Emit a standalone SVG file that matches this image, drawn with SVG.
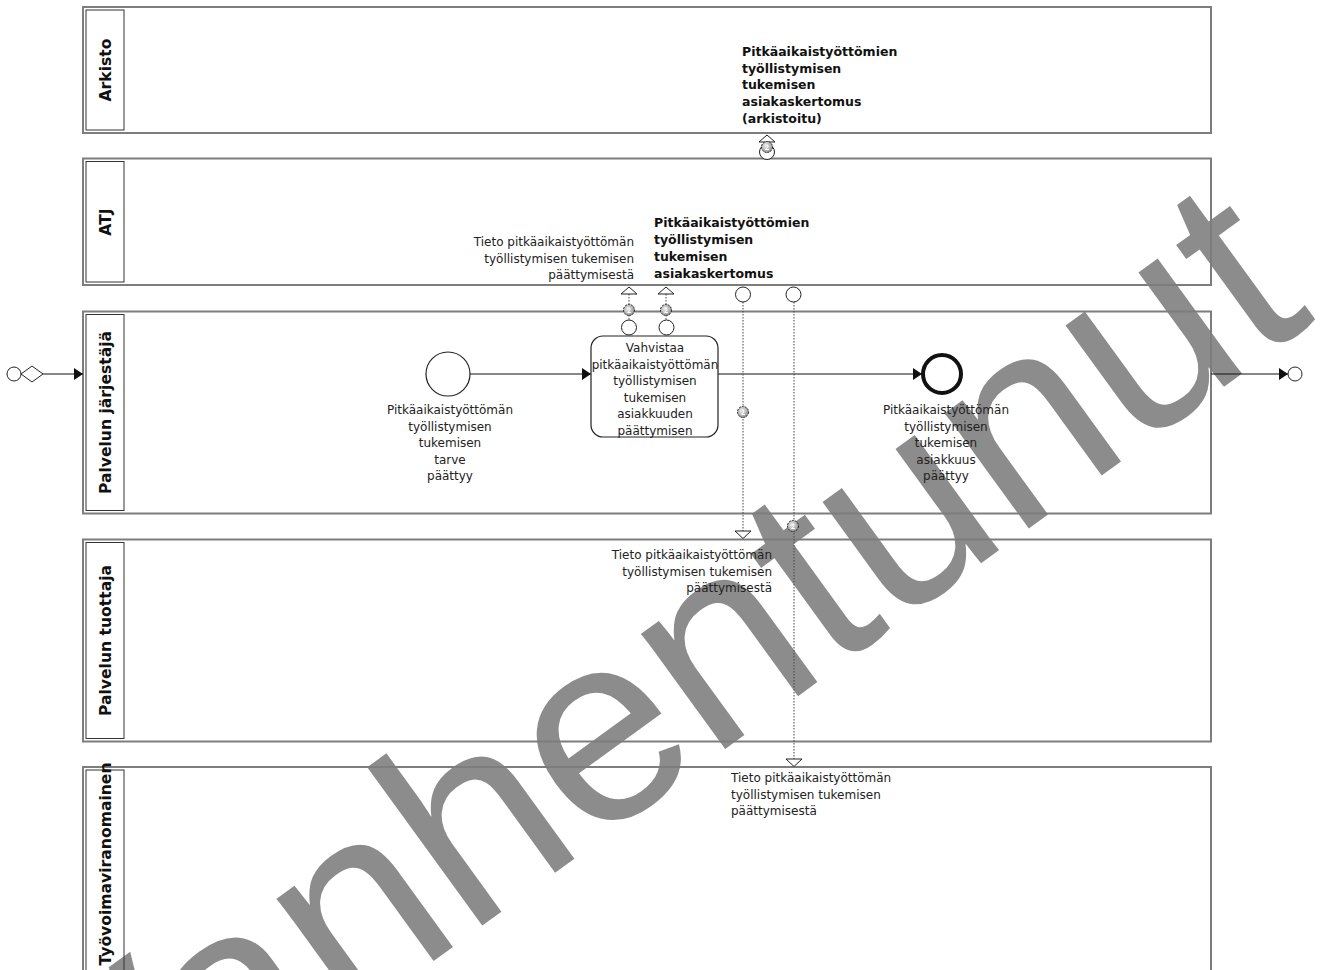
<svg xmlns="http://www.w3.org/2000/svg" width="1325" height="970" viewBox="0 0 1325 970">
<style>
.lane{fill:none;stroke:#7d7d7d;stroke-width:2}
.hdr{fill:none;stroke:#333;stroke-width:1}
.lt{font-family:"DejaVu Sans",Verdana,sans-serif;font-weight:bold;font-size:15.6px;fill:#111;text-anchor:middle}
.t{font-family:"DejaVu Sans",Verdana,sans-serif;font-size:12px;fill:#222}
.b{font-family:"DejaVu Sans",Verdana,sans-serif;font-size:12.5px;font-weight:bold;fill:#111}
.flow{fill:none;stroke:#111;stroke-width:1.2}
.msg{fill:none;stroke:#444;stroke-width:1;stroke-dasharray:1.5 1.5}
.tri{fill:#fff;stroke:#222;stroke-width:1}
.dc{fill:#fff;stroke:#222;stroke-width:1}
.wm{font-family:"Liberation Sans",Arial,sans-serif;font-size:270px;fill:#8c8c8c}
</style>
<defs>
<marker id="ah" markerWidth="9" markerHeight="12" refX="9" refY="6" orient="auto" markerUnits="userSpaceOnUse">
<path d="M0,0 L9,6 L0,12 Z" fill="#111"/>
</marker>
<radialGradient id="mg" cx="0.4" cy="0.4" r="0.7">
<stop offset="0" stop-color="#eeeeee"/>
<stop offset="1" stop-color="#8a8a8a"/>
</radialGradient>
<g id="mi">
<circle r="5.5" fill="url(#mg)" stroke="#222" stroke-width="1" stroke-dasharray="2 1"/>
<path d="M-1.5,-2 Q1.5,-3 1,0 L-1.5,2.5 L2,2.5" fill="none" stroke="#fff" stroke-width="0.9"/>
</g>
</defs>
<rect width="1325" height="970" fill="#fff"/>
<text class="wm" transform="translate(706,763) rotate(-36)" text-anchor="middle">Vanhentunut</text>

<g id="lane-arkisto">
<rect class="lane" x="83" y="7" width="1128" height="126"/>
<rect class="hdr" x="86" y="10" width="38" height="120"/>
<text class="lt" transform="translate(110.5,70) rotate(-90)">Arkisto</text>
</g>
<g id="lane-atj">
<rect class="lane" x="83" y="158.5" width="1128" height="126.5"/>
<rect class="hdr" x="86" y="161.5" width="38" height="120.5"/>
<text class="lt" transform="translate(110.5,222) rotate(-90)">ATJ</text>
</g>
<g id="lane-jarjestaja">
<rect class="lane" x="83" y="311.5" width="1128" height="202"/>
<rect class="hdr" x="86" y="314.5" width="38" height="196"/>
<text class="lt" transform="translate(110.5,412.5) rotate(-90)">Palvelun järjestäjä</text>
</g>
<g id="lane-tuottaja">
<rect class="lane" x="83" y="539.5" width="1128" height="202"/>
<rect class="hdr" x="86" y="542.5" width="38" height="196"/>
<text class="lt" transform="translate(110.5,640.5) rotate(-90)">Palvelun tuottaja</text>
</g>
<g id="lane-tyovoima">
<rect class="lane" x="83" y="767" width="1128" height="205"/>
<rect class="hdr" x="86" y="770" width="38" height="205"/>
<text class="lt" transform="translate(110.5,864) rotate(-90)">Työvoimaviranomainen</text>
</g>

<g id="connectors">
<line class="flow" x1="43" y1="374" x2="83" y2="374" marker-end="url(#ah)"/>
<line class="flow" x1="470" y1="374" x2="591" y2="374" marker-end="url(#ah)"/>
<line class="flow" x1="718" y1="374" x2="922" y2="374" marker-end="url(#ah)"/>
<line class="flow" x1="1211" y1="374" x2="1288" y2="374" marker-end="url(#ah)"/>
<line class="msg" x1="629" y1="294" x2="629" y2="320"/>
<polygon class="tri" points="629,287 621,294 637,294"/>
<line class="msg" x1="666" y1="294" x2="666" y2="320"/>
<polygon class="tri" points="666,287 658,294 674,294"/>
<line class="msg" x1="743" y1="302" x2="743" y2="531"/>
<polygon class="tri" points="743,538.5 735,531 751,531"/>
<line class="msg" x1="794" y1="302" x2="794" y2="759"/>
<polygon class="tri" points="794,766.5 786,759 802,759"/>
<line class="msg" x1="767" y1="142" x2="767" y2="145"/>
<polygon class="tri" points="767,135 759,142 775,142"/>
<use href="#mi" x="629" y="310"/>
<use href="#mi" x="666" y="310"/>
<use href="#mi" x="743" y="412"/>
<use href="#mi" x="793" y="526"/>
</g>

<g id="entry">
<circle class="dc" cx="14" cy="374" r="7"/>
<polygon class="dc" points="21,374 32,366 43,374 32,382"/>
</g>
<g id="exit">
<circle class="dc" cx="1295" cy="374" r="7"/>
</g>

<g id="start-event">
<circle cx="448" cy="374" r="22" fill="#fff" stroke="#222" stroke-width="1.2"/>
<text class="t" text-anchor="middle"><tspan x="450" y="414">Pitkäaikaistyöttömän</tspan><tspan x="450" y="430.5">työllistymisen</tspan><tspan x="450" y="447">tukemisen</tspan><tspan x="450" y="463.5">tarve</tspan><tspan x="450" y="480">päättyy</tspan></text>
</g>

<g id="task">
<rect x="591" y="336" width="127" height="101" rx="12" fill="#fff" stroke="#222" stroke-width="1.2"/>
<text class="t" text-anchor="middle"><tspan x="655" y="352">Vahvistaa</tspan><tspan x="655" y="368.5">pitkäaikaistyöttömän</tspan><tspan x="655" y="385">työllistymisen</tspan><tspan x="655" y="401.5">tukemisen</tspan><tspan x="655" y="418">asiakkuuden</tspan><tspan x="655" y="434.5">päättymisen</tspan></text>
</g>

<g id="end-event">
<circle cx="942" cy="374" r="19" fill="#fff" stroke="#111" stroke-width="4"/>
<text class="t" text-anchor="middle"><tspan x="946" y="414">Pitkäaikaistyöttömän</tspan><tspan x="946" y="430.5">työllistymisen</tspan><tspan x="946" y="447">tukemisen</tspan><tspan x="946" y="463.5">asiakkuus</tspan><tspan x="946" y="480">päättyy</tspan></text>
</g>

<g id="data-out-1">
<circle class="dc" cx="629" cy="327.5" r="7.5"/>
</g>
<g id="data-out-2">
<circle class="dc" cx="666.5" cy="327.5" r="7.5"/>
</g>
<g id="atj-data-1">
<circle class="dc" cx="743" cy="294.5" r="7.5"/>
</g>
<g id="atj-data-2">
<circle class="dc" cx="793.5" cy="294.5" r="7.5"/>
</g>
<g id="atj-data-top">
<circle class="dc" cx="767" cy="152" r="7.5"/>
<use href="#mi" x="767" y="147"/>
</g>

<g id="label-atj-tieto">
<text class="t" text-anchor="end"><tspan x="634" y="246">Tieto pitkäaikaistyöttömän</tspan><tspan x="634" y="262.5">työllistymisen tukemisen</tspan><tspan x="634" y="279">päättymisestä</tspan></text>
</g>
<g id="label-atj-kertomus">
<text class="b"><tspan x="654" y="227">Pitkäaikaistyöttömien</tspan><tspan x="654" y="244">työllistymisen</tspan><tspan x="654" y="261">tukemisen</tspan><tspan x="654" y="277.5">asiakaskertomus</tspan></text>
</g>
<g id="label-arkisto">
<text class="b"><tspan x="742" y="56">Pitkäaikaistyöttömien</tspan><tspan x="742" y="72.7">työllistymisen</tspan><tspan x="742" y="89.3">tukemisen</tspan><tspan x="742" y="106">asiakaskertomus</tspan><tspan x="742" y="122.6">(arkistoitu)</tspan></text>
</g>
<g id="label-tuottaja-tieto">
<text class="t" text-anchor="end"><tspan x="772" y="559">Tieto pitkäaikaistyöttömän</tspan><tspan x="772" y="575.5">työllistymisen tukemisen</tspan><tspan x="772" y="592">päättymisestä</tspan></text>
</g>
<g id="label-tyovoima-tieto">
<text class="t"><tspan x="731" y="782">Tieto pitkäaikaistyöttömän</tspan><tspan x="731" y="798.5">työllistymisen tukemisen</tspan><tspan x="731" y="815">päättymisestä</tspan></text>
</g>
</svg>
